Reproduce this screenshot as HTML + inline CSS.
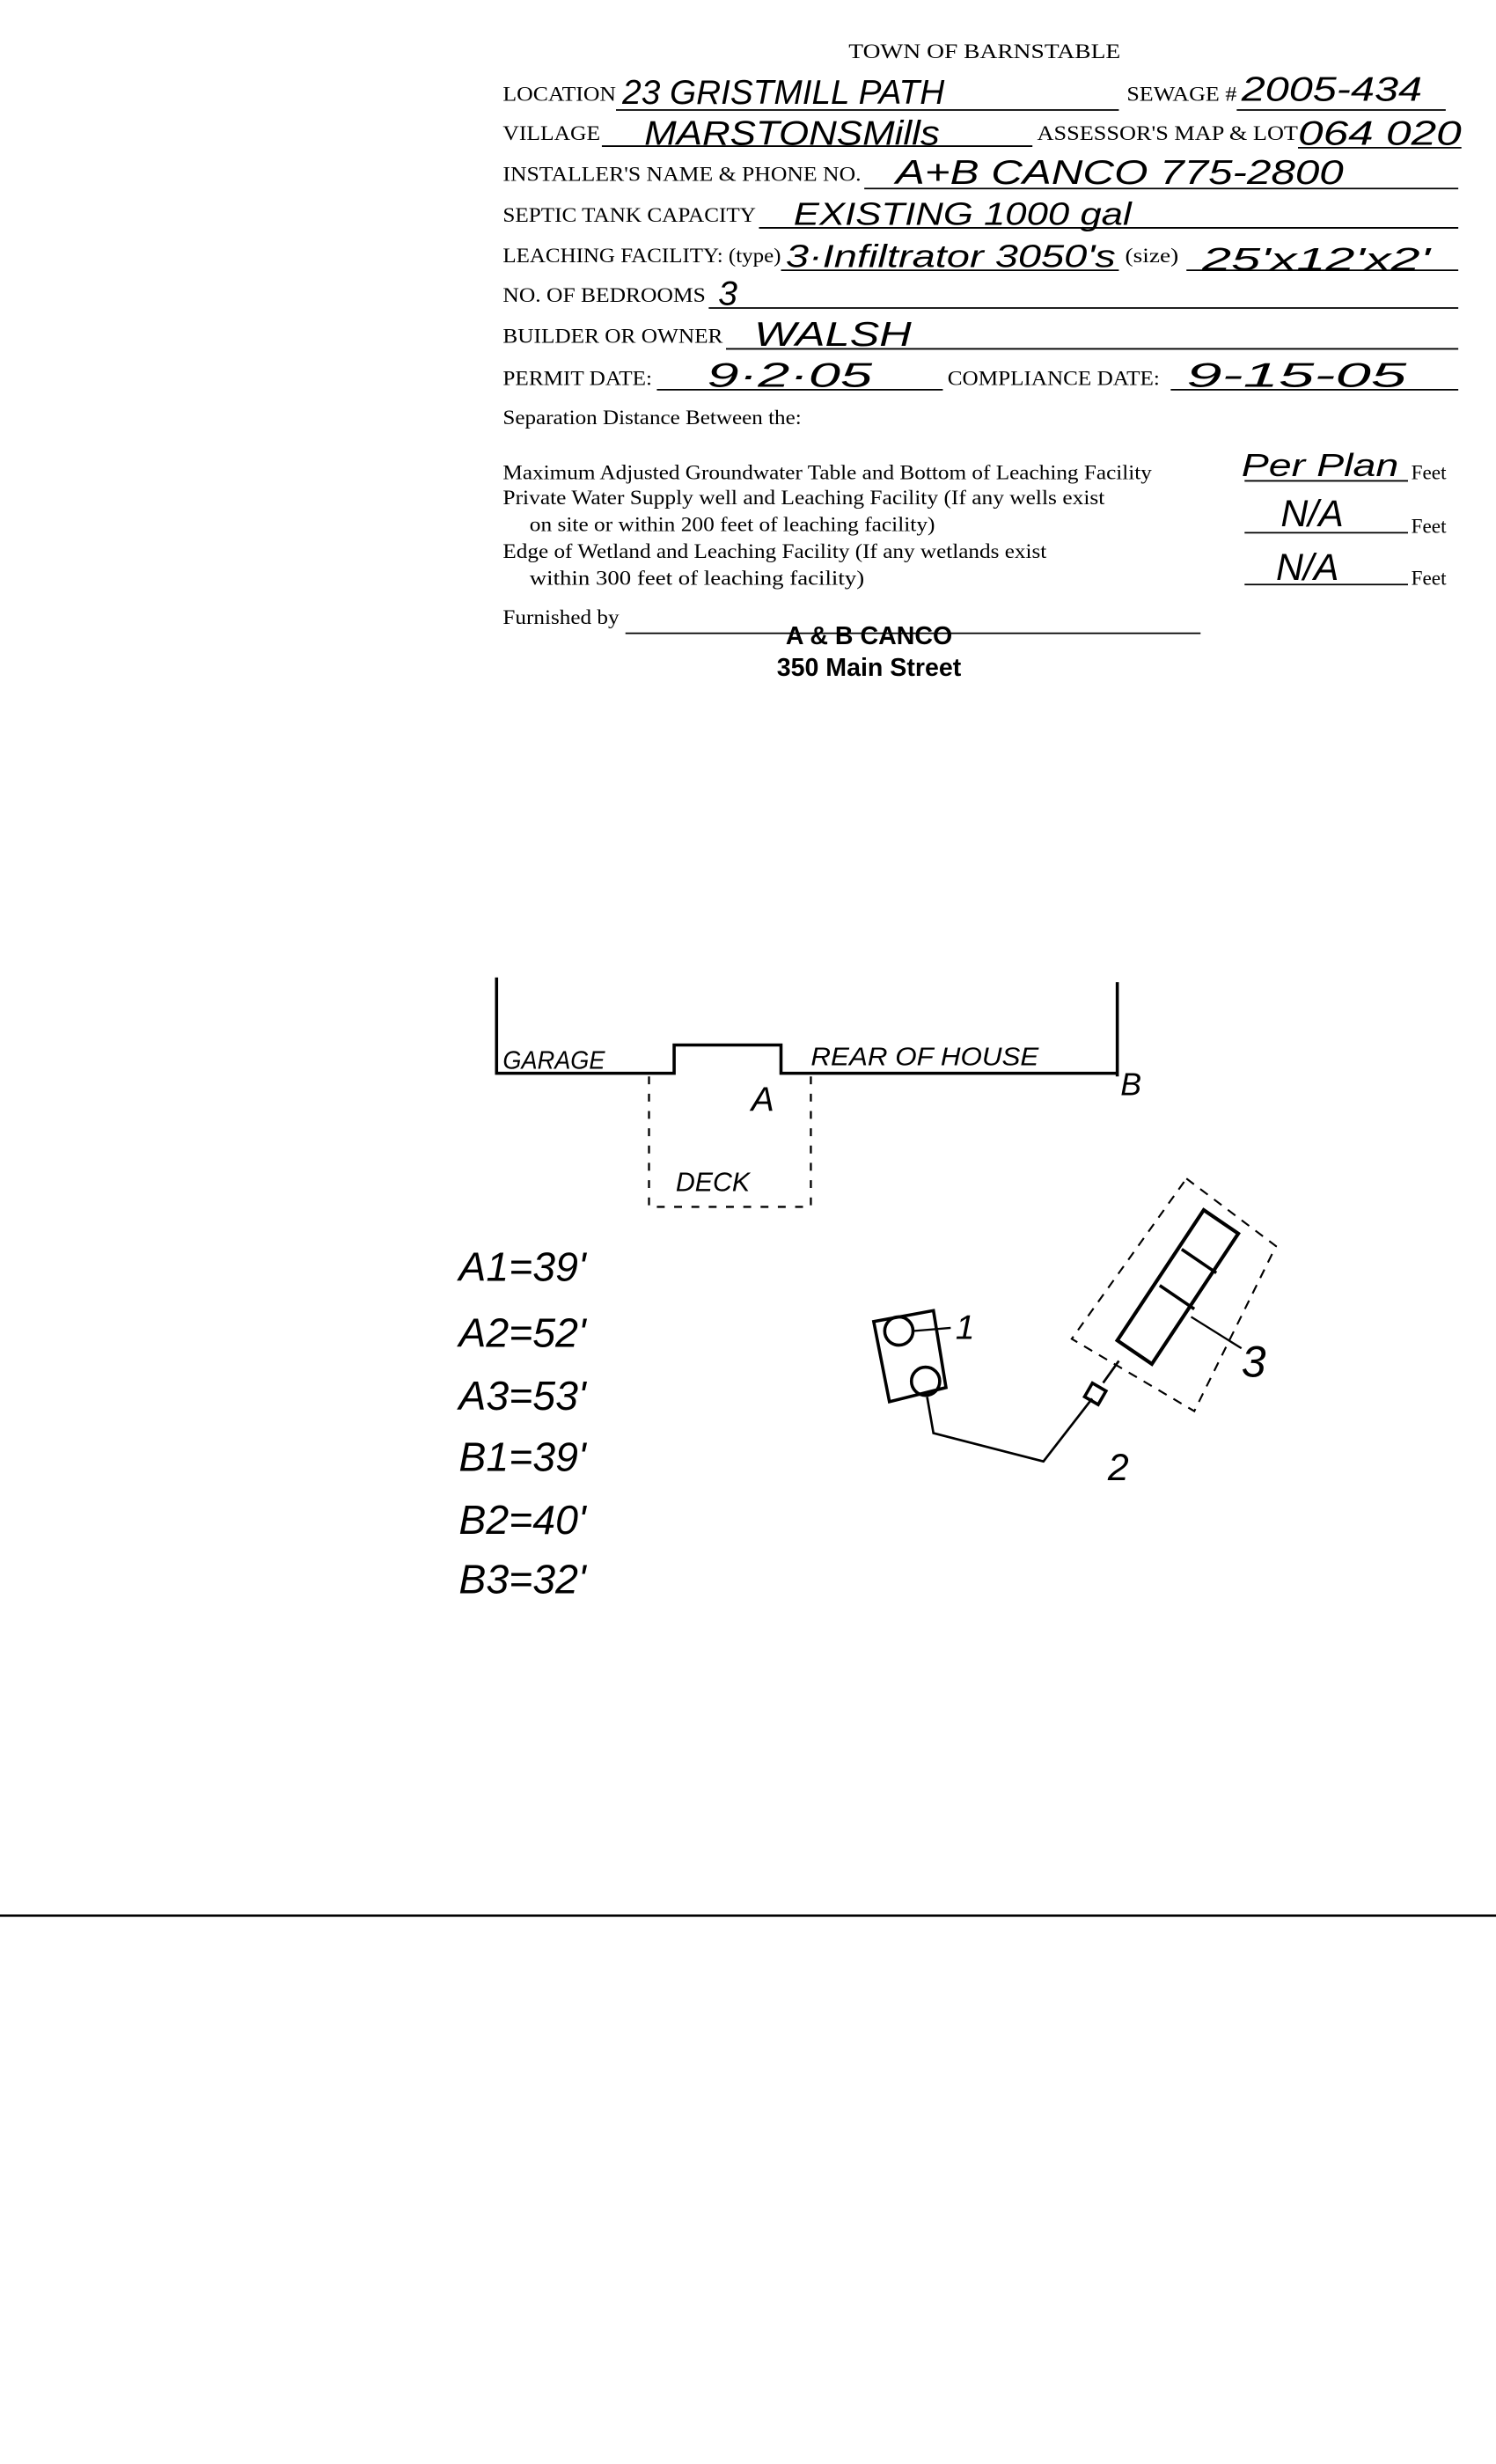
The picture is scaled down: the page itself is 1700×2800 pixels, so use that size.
<!DOCTYPE html>
<html><head><meta charset="utf-8"><style>
html,body{margin:0;padding:0;background:#fff;}
svg{display:block;}
.t{font-family:"Liberation Serif",serif;font-size:13px;fill:#000;}
.h{font-family:"Liberation Sans",sans-serif;fill:#000;font-style:italic;}
.l{stroke:#000;stroke-width:1;}
</style></head><body>
<svg width="1700" height="2800" viewBox="0 0 952 1568" xmlns="http://www.w3.org/2000/svg">
<rect width="952" height="1568" fill="#fff"/>
<g class="t">
<text x="540" y="37" textLength="173" lengthAdjust="spacingAndGlyphs">TOWN OF BARNSTABLE</text>
<text x="320" y="64" textLength="72" lengthAdjust="spacingAndGlyphs">LOCATION</text>
<text x="717" y="64" textLength="70" lengthAdjust="spacingAndGlyphs">SEWAGE #</text>
<text x="320" y="89" textLength="62" lengthAdjust="spacingAndGlyphs">VILLAGE</text>
<text x="660" y="89" textLength="166" lengthAdjust="spacingAndGlyphs">ASSESSOR'S MAP &amp; LOT</text>
<text x="320" y="115" textLength="228" lengthAdjust="spacingAndGlyphs">INSTALLER'S NAME &amp; PHONE NO.</text>
<text x="320" y="141" textLength="161" lengthAdjust="spacingAndGlyphs">SEPTIC TANK CAPACITY</text>
<text x="320" y="167" textLength="177" lengthAdjust="spacingAndGlyphs">LEACHING FACILITY: (type)</text>
<text x="716" y="167" textLength="34" lengthAdjust="spacingAndGlyphs">(size)</text>
<text x="320" y="192" textLength="129" lengthAdjust="spacingAndGlyphs">NO. OF BEDROOMS</text>
<text x="320" y="218" textLength="140" lengthAdjust="spacingAndGlyphs">BUILDER OR OWNER</text>
<text x="320" y="245" textLength="95" lengthAdjust="spacingAndGlyphs">PERMIT DATE:</text>
<text x="603" y="245" textLength="135" lengthAdjust="spacingAndGlyphs">COMPLIANCE DATE:</text>
<text x="320" y="270" textLength="190" lengthAdjust="spacingAndGlyphs">Separation Distance Between the:</text>
<text x="320" y="305" textLength="413" lengthAdjust="spacingAndGlyphs">Maximum Adjusted Groundwater Table and Bottom of Leaching Facility</text>
<text x="320" y="321" textLength="383" lengthAdjust="spacingAndGlyphs">Private Water Supply well and Leaching Facility  (If any wells exist</text>
<text x="337" y="338" textLength="258" lengthAdjust="spacingAndGlyphs">on site or within 200 feet of leaching facility)</text>
<text x="320" y="355" textLength="346" lengthAdjust="spacingAndGlyphs">Edge of Wetland and Leaching Facility (If any wetlands exist</text>
<text x="337" y="372" textLength="213" lengthAdjust="spacingAndGlyphs">within 300 feet of leaching facility)</text>
<text x="898" y="305">Feet</text><text x="898" y="339">Feet</text><text x="898" y="372">Feet</text>
<text x="320" y="397" textLength="74" lengthAdjust="spacingAndGlyphs">Furnished by</text>
</g>
<g class="l">
<line x1="392" y1="70" x2="712" y2="70"/><line x1="787" y1="70" x2="920" y2="70"/>
<line x1="383" y1="93" x2="657" y2="93"/><line x1="826" y1="94" x2="930" y2="94"/>
<line x1="550" y1="120" x2="928" y2="120"/><line x1="483" y1="145" x2="928" y2="145"/>
<line x1="497" y1="172" x2="712" y2="172"/><line x1="755" y1="172" x2="928" y2="172"/>
<line x1="451" y1="196" x2="928" y2="196"/><line x1="462" y1="222" x2="928" y2="222"/>
<line x1="418" y1="248" x2="600" y2="248"/><line x1="745" y1="248" x2="928" y2="248"/>
<line x1="792" y1="306" x2="896" y2="306"/><line x1="792" y1="339" x2="896" y2="339"/><line x1="792" y1="372" x2="896" y2="372"/>
<line x1="398" y1="403" x2="764" y2="403"/>
<line x1="0" y1="1219" x2="952" y2="1219" stroke-width="1.5"/>
</g>
<text x="553" y="410" text-anchor="middle" font-family="Liberation Sans,sans-serif" font-weight="bold" font-size="16">A &amp; B CANCO</text>
<text x="553" y="430" text-anchor="middle" font-family="Liberation Sans,sans-serif" font-weight="bold" font-size="16">350 Main Street</text>
<g class="h">
<text x="396" y="66" font-size="22" textLength="205" lengthAdjust="spacingAndGlyphs">23 GRISTMILL PATH</text>
<text x="790" y="64" font-size="22" textLength="115" lengthAdjust="spacingAndGlyphs">2005-434</text>
<text x="410" y="92" font-size="22" textLength="188" lengthAdjust="spacingAndGlyphs">MARSTONSMills</text>
<text x="826" y="92" font-size="22" textLength="104" lengthAdjust="spacingAndGlyphs">064 020</text>
<text x="570" y="117" font-size="22" textLength="285" lengthAdjust="spacingAndGlyphs">A+B CANCO   775-2800</text>
<text x="505" y="143" font-size="20" textLength="215" lengthAdjust="spacingAndGlyphs">EXISTING 1000 gal</text>
<text x="500" y="170" font-size="20" textLength="210" lengthAdjust="spacingAndGlyphs">3·Infiltrator 3050's</text>
<text x="765" y="172" font-size="20" textLength="145" lengthAdjust="spacingAndGlyphs">25'x12'x2'</text>
<text x="457" y="194" font-size="22">3</text>
<text x="480" y="220" font-size="22" textLength="100" lengthAdjust="spacingAndGlyphs">WALSH</text>
<text x="450" y="246" font-size="22" textLength="105" lengthAdjust="spacingAndGlyphs">9·2·05</text>
<text x="755" y="246" font-size="22" textLength="140" lengthAdjust="spacingAndGlyphs">9-15-05</text>
<text x="790" y="303" font-size="20" textLength="100" lengthAdjust="spacingAndGlyphs">Per Plan</text>
<text x="815" y="335" font-size="24">N/A</text>
<text x="812" y="369" font-size="24">N/A</text>
<text x="320" y="680" font-size="16" textLength="65" lengthAdjust="spacingAndGlyphs">GARAGE</text>
<text x="516" y="678" font-size="16" textLength="145" lengthAdjust="spacingAndGlyphs">REAR OF HOUSE</text>
<text x="478" y="707" font-size="22">A</text>
<text x="713" y="697" font-size="20">B</text>
<text x="430" y="758" font-size="17">DECK</text>
<g font-size="26">
<text x="292" y="815">A1=39'</text>
<text x="292" y="857">A2=52'</text>
<text x="292" y="897">A3=53'</text>
<text x="292" y="936">B1=39'</text>
<text x="292" y="976">B2=40'</text>
<text x="292" y="1014">B3=32'</text>
</g>
<text x="608" y="852" font-size="22">1</text>
<text x="705" y="942" font-size="24">2</text>
<text x="790" y="876" font-size="28">3</text>
</g>
<g fill="none" stroke="#000" stroke-width="2">
<polyline points="316,622 316,683 429,683 429,665 497,665 497,683 711,683"/>
<line x1="711" y1="625" x2="711" y2="685"/>
<path d="M413,685 L413,768 L516,768 L516,683" stroke-width="1.3" stroke-dasharray="5,6"/>
<polygon points="556,841 594,834 602,883 566,892"/>
<circle cx="572" cy="847" r="9"/><circle cx="589" cy="879" r="9"/>
<line x1="581" y1="847" x2="605" y2="845" stroke-width="1.3"/>
<polyline points="590,889 594,912 664,930 695,890" stroke-width="1.5"/>
<rect x="692" y="882" width="10" height="10" transform="rotate(30 697 887)"/>
<line x1="702" y1="880" x2="712" y2="866" stroke-width="1.5"/>
<path d="M755,750 L812,793 L760,898 L682,852 Z" stroke-width="1.2" stroke-dasharray="6,5"/>
<polygon points="766,770 788,785 733,868 711,853" stroke-width="2.3"/>
<line x1="752" y1="795" x2="774" y2="810"/>
<line x1="738" y1="818" x2="760" y2="833"/>
<line x1="758" y1="838" x2="790" y2="858" stroke-width="1.3"/>
</g>
</svg>
</body></html>
